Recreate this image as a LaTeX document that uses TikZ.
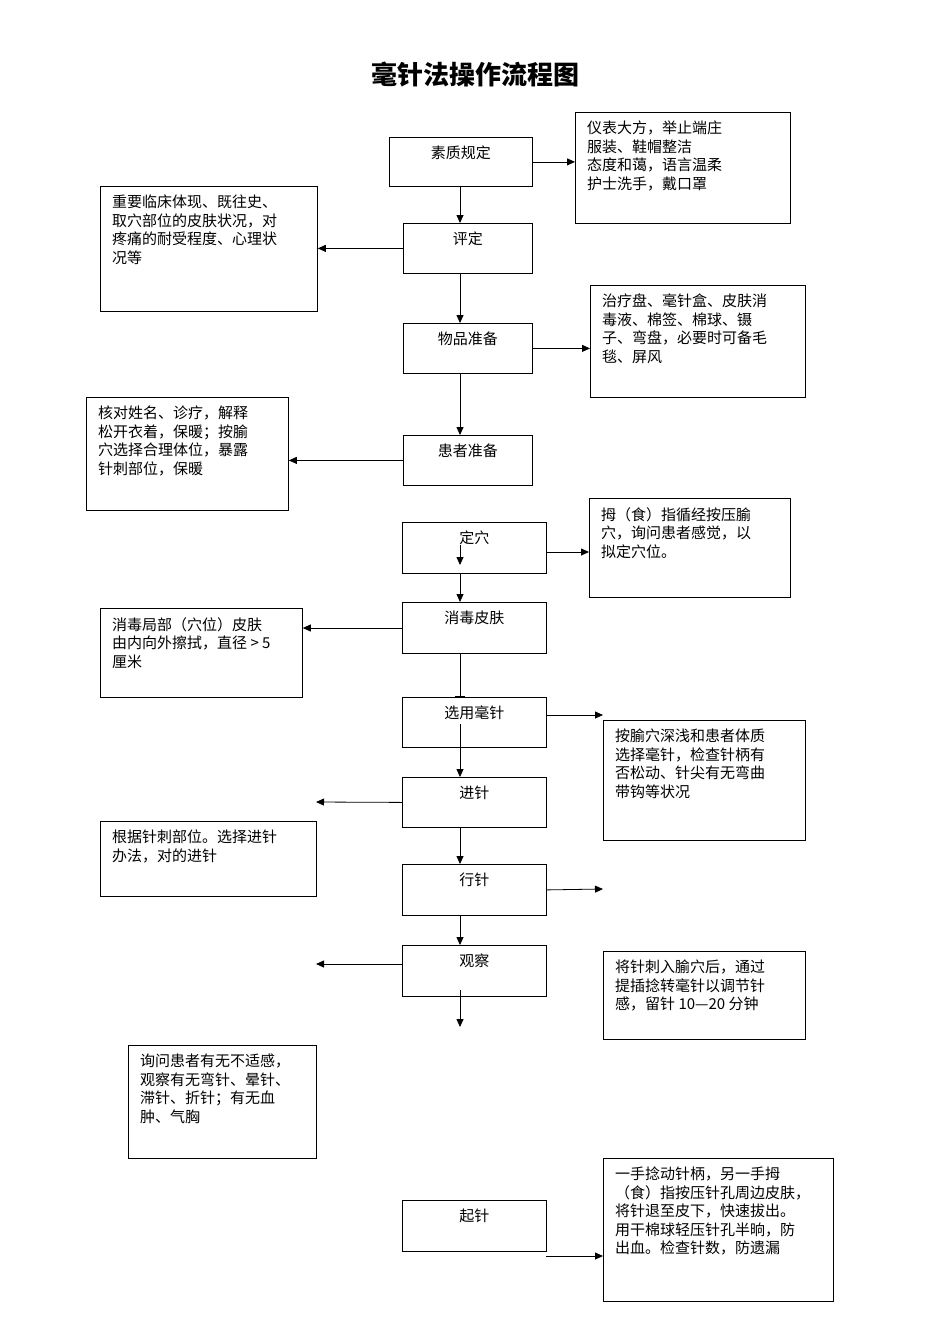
\documentclass[tikz,border=0pt]{standalone}
\usepackage{fontspec}
\setmainfont{Liberation Serif}
\newfontfamily\cjk{Noto Sans CJK SC}
\usetikzlibrary{arrows.meta}
\tikzset{
  box/.style={draw, line width=0.8pt, anchor=north west, inner sep=0pt},
  step/.style={box, label={[anchor=north, inner sep=0pt, yshift=-9pt, font=\cjk\fontsize{15}{18.5}\selectfont]north:#1}},
  note/.style={box, label={[anchor=north west, inner sep=0pt, xshift=12pt, yshift=-9pt, align=left, font=\cjk\fontsize{15}{18.5}\selectfont]north west:#1}},
  arr/.style={-{Triangle[length=8pt,width=7pt]}, line width=0.8pt},
}
\begin{document}
\begin{tikzpicture}[x=1pt,y=-1pt]
\useasboundingbox (0,0) rectangle (950,1344);

    \node[font=\cjk\bfseries\fontsize{26}{30}\selectfont] (title) at (475,75) {毫针法操作流程图};

    % steps
    \node[step=素质规定, minimum width=143pt, minimum height=49pt] (sz) at (389,137) {};
    \node[step=评定, minimum width=129pt, minimum height=50pt] (pd) at (403,223) {};
    \node[step=物品准备, minimum width=129pt, minimum height=50pt] (wp) at (403,323) {};
    \node[step=患者准备, minimum width=129pt, minimum height=50pt] (hz) at (403,435) {};
    \node[step=定穴, minimum width=144pt, minimum height=51pt] (dx) at (402,522) {};
    \node[step=消毒皮肤, minimum width=144pt, minimum height=51pt] (xd) at (402,602) {};
    \node[step=选用毫针, minimum width=144pt, minimum height=50pt] (xy) at (402,697) {};
    \node[step=进针, minimum width=144pt, minimum height=50pt] (jz) at (402,777) {};
    \node[step=行针, minimum width=144pt, minimum height=51pt] (xz) at (402,864) {};
    \node[step=观察, minimum width=144pt, minimum height=51pt] (gc) at (402,945) {};
    \node[step=起针, minimum width=144pt, minimum height=51pt] (qz) at (402,1200) {};

    % notes
    \node[note={仪表大方，举止端庄\\服装、鞋帽整洁\\态度和蔼，语言温柔\\护士洗手，戴口罩}, minimum width=215pt, minimum height=111pt] (n1) at (575,112) {};
    \node[note={重要临床体现、既往史、\\取穴部位的皮肤状况，对\\疼痛的耐受程度、心理状\\况等}, minimum width=217pt, minimum height=125pt] (n2) at (100,186) {};
    \node[note={治疗盘、毫针盒、皮肤消\\毒液、棉签、棉球、镊\\子、弯盘，必要时可备毛\\毯、屏风}, minimum width=215pt, minimum height=112pt] (n3) at (590,285) {};
    \node[note={核对姓名、诊疗，解释\\松开衣着，保暖；按腧\\穴选择合理体位，暴露\\针刺部位，保暖}, minimum width=202pt, minimum height=113pt] (n4) at (86,397) {};
    \node[note={拇（食）指循经按压腧\\穴，询问患者感觉，以\\拟定穴位。}, minimum width=201pt, minimum height=99pt] (n5) at (589,498) {};
    \node[note={消毒局部（穴位）皮肤\\由内向外擦拭，直径 > 5\\厘米}, minimum width=202pt, minimum height=89pt] (n6) at (100,608) {};
    \node[note={按腧穴深浅和患者体质\\选择毫针，检查针柄有\\否松动、针尖有无弯曲\\带钩等状况}, minimum width=202pt, minimum height=120pt] (n7) at (603,720) {};
    \node[note={根据针刺部位。选择进针\\办法，对的进针}, minimum width=216pt, minimum height=75pt] (n8) at (100,821) {};
    \node[note={将针刺入腧穴后，通过\\提插捻转毫针以调节针\\感，留针 10—20 分钟}, minimum width=202pt, minimum height=88pt] (n9) at (603,951) {};
    \node[note={询问患者有无不适感，\\观察有无弯针、晕针、\\滞针、折针；有无血\\肿、气胸}, minimum width=188pt, minimum height=113pt] (n10) at (128,1045) {};
    \node[note={一手捻动针柄，另一手拇\\（食）指按压针孔周边皮肤，\\将针退至皮下，快速拔出。\\用干棉球轻压针孔半晌，防\\出血。检查针数，防遗漏}, minimum width=230pt, minimum height=143pt] (n11) at (603,1158) {};

    % free ends
    \coordinate (dxin) at (460,545);
    \coordinate (xyin) at (460,724);
    \coordinate (gcin) at (460,990);
    \coordinate (jzl) at (316,802);
    \coordinate (xzr) at (603,889);
    \coordinate (gcl) at (316,964);
    \coordinate (gcd) at (460,1027);
    \coordinate (qzr) at (546,1256);

    % connectors
    \draw[arr] (sz.south -| 460,0) -- (pd.north -| 460,0);
    \draw[arr] (sz.east) -- (sz.east -| n1.west);
    \draw[arr] (pd.west) -- (pd.west -| n2.east);
    \draw[arr] (pd.south -| 460,0) -- (wp.north -| 460,0);
    \draw[arr] (wp.east) -- (wp.east -| n3.west);
    \draw[arr] (wp.south -| 460,0) -- (hz.north -| 460,0);
    \draw[arr] (hz.west) -- (hz.west -| n4.east);
    \draw[arr] (dxin) -- ++(0,20);
    \draw[arr] (dx.south -| 460,0) -- (xd.north -| 460,0);
    \draw[arr] (dx.east |- 0,552) -- (n5.west |- 0,552);
    \draw[arr] (xd.west |- 0,628) -- (n6.east |- 0,628);
    \draw[line width=0.8pt] (xd.south -| 460,0) -- (xy.north -| 460,0);
    \draw[line width=1.5pt] (455,697) -- (465,697);
    \draw[arr] (xy.east |- 0,715) -- (n7.west |- 0,715);
    \draw[arr] (xyin) -- (jz.north -| 460,0);
    \draw[arr] (jz.west) -- (jzl);
    \draw[arr] (jz.south -| 460,0) -- (xz.north -| 460,0);
    \draw[arr] (xz.east) -- (xzr);
    \draw[arr] (xz.south -| 460,0) -- (gc.north -| 460,0);
    \draw[arr] (gc.west |- gcl) -- (gcl);
    \draw[arr] (gcin) -- (gcd);
    \draw[arr] (qzr) -- (n11.west |- qzr);

\end{tikzpicture}
\end{document}
